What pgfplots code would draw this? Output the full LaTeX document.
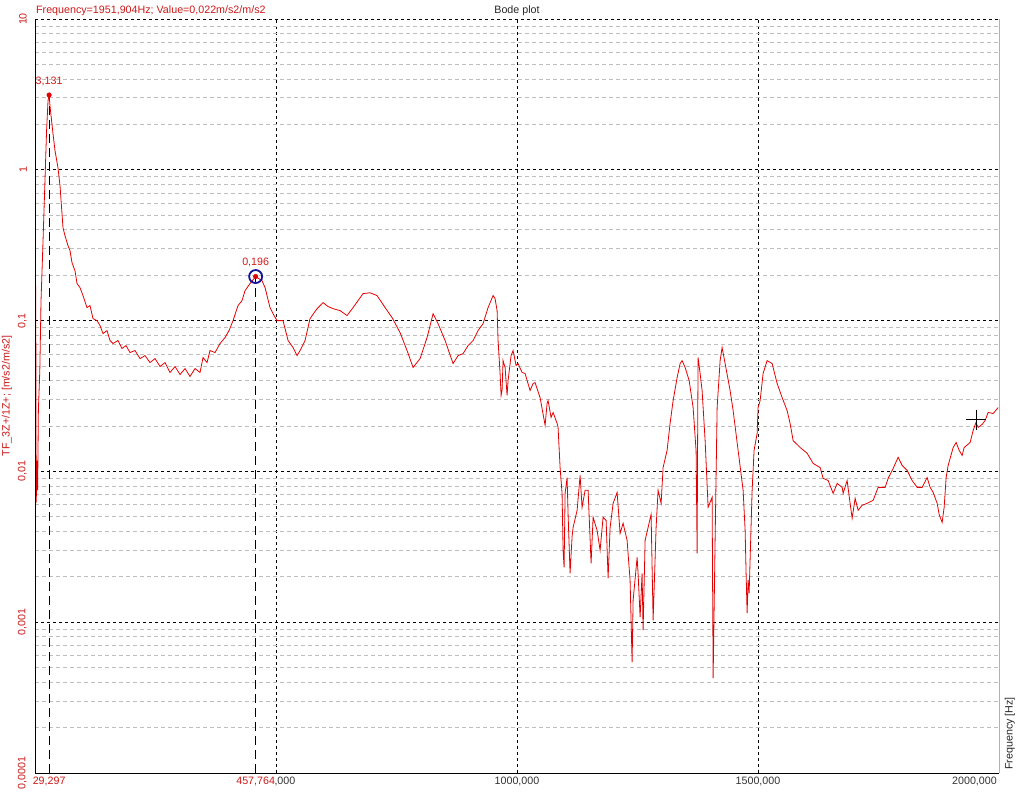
\documentclass[border=0pt]{standalone}
\usepackage{fontspec}
\setmainfont{Liberation Sans}
\usepackage{pgfplots}
\usepackage{pgfplotstable}
\pgfplotsset{compat=1.18}
\definecolor{curvered}{RGB}{228,0,0}
\definecolor{txtred}{RGB}{205,25,25}
\definecolor{mgray}{RGB}{190,190,190}
\definecolor{cnavy}{RGB}{20,20,150}
\newcommand{\fs}{\fontsize{10.7bp}{12bp}\selectfont}

\pgfplotstableread{
f v
0.5 0.0051
1.5 0.17
2.5 0.0062
3.5 0.0087
4.5 0.0118
5.5 0.0075
7 0.0253
10 0.0467
12.5 0.136
16 0.291
20 0.726
24 1.81
27 2.86
29.297 3.131
31.1 2.65
37.4 1.73
41.5 1.34
47.7 1.03
51.9 0.783
58.1 0.413
62.3 0.365
68.5 0.314
72.6 0.291
76.8 0.242
83.0 0.214
87.2 0.176
93.4 0.1655
99.6 0.1465
107.9 0.122
114.1 0.1257
120.4 0.1031
128.7 0.100
134.9 0.0927
141.1 0.082
149.4 0.0859
155.6 0.0738
161.9 0.0705
172.2 0.0738
180.5 0.0653
188.8 0.0683
197.1 0.0614
207.5 0.0633
217.9 0.056
228.3 0.0586
238.6 0.0527
249.0 0.056
259.4 0.0496
269.8 0.0527
280.1 0.0453
290.5 0.0496
300.9 0.0439
311.3 0.0481
321.6 0.0426
332.0 0.0481
342.4 0.0453
348.6 0.0569
356.9 0.0527
363.1 0.0633
373.5 0.0614
383.9 0.0705
394.3 0.0772
402.6 0.0859
410.9 0.100
421.2 0.1257
429.5 0.1356
435.8 0.158
446.1 0.176
457.764 0.196
471.0 0.184
477.3 0.1655
487.6 0.122
495.9 0.108
502.2 0.100
514.6 0.100
525.0 0.0738
535.4 0.0663
543.7 0.0586
549.9 0.0633
560.3 0.0738
570.6 0.1031
585.2 0.120
597.6 0.1316
608.0 0.124
618.4 0.120
632.9 0.1165
647.4 0.108
659.9 0.122
670.2 0.1356
680.6 0.151
695.1 0.153
709.7 0.1465
726.3 0.122
740.8 0.1047
757.4 0.0833
771.9 0.0633
784.4 0.0489
798.9 0.056
813.4 0.0772
825.9 0.111
836.2 0.0955
850.8 0.0738
867.4 0.0519
877.7 0.0586
888.1 0.0604
898.5 0.0683
908.9 0.0738
919.2 0.0859
929.6 0.0955
940.0 0.122
950.4 0.1465
954.5 0.14
958.7 0.1165
960.7 0.0738
964.9 0.0446
967.0 0.0319
969.0 0.0344
971.1 0.0543
975.3 0.0489
979.4 0.0319
981.5 0.0401
987.7 0.0586
991.9 0.0633
998.1 0.0504
1002.2 0.0519
1010.5 0.0453
1016.8 0.0446
1027.1 0.0344
1033.4 0.0383
1037.5 0.0388
1047.9 0.0309
1058.3 0.0202
1062.4 0.0282
1064.5 0.0295
1070.7 0.0228
1074.9 0.0246
1083.2 0.0208
1085.2 0.0196
1089.4 0.0106
1093.5 0.00715
1095.6 0.0030
1097.7 0.00231
1099.8 0.00715
1103.9 0.0091
1106.0 0.00519
1110.1 0.00211
1114.3 0.00371
1116.4 0.00425
1124.7 0.00552
1130.9 0.0094
1135.0 0.00578
1141.3 0.0075
1147.5 0.0075
1153.7 0.00246
1157.9 0.00496
1166.2 0.00406
1172.4 0.0030
1178.6 0.00496
1184.9 0.00473
1189.0 0.00196
1193.2 0.00425
1199.4 0.00614
1207.7 0.00726
1213.9 0.00388
1220.1 0.00453
1228.4 0.00349
1234.6 0.0019
1238.8 0.000543
1240.9 0.0014
1249.2 0.00269
1251.2 0.00211
1255.4 0.00108
1259.5 0.00211
1261.6 0.000885
1265.8 0.00349
1272.0 0.00425
1278.2 0.00519
1282.4 0.00103
1288.6 0.00425
1292.7 0.0075
1299.0 0.00614
1303.1 0.0106
1311.4 0.0138
1317.6 0.0208
1323.9 0.0295
1332.2 0.0419
1338.4 0.0519
1342.5 0.0543
1348.8 0.0489
1357.1 0.0401
1365.4 0.0265
1371.6 0.0136
1373.7 0.00286
1374.7 0.016
1375.7 0.0569
1379.9 0.0446
1384.0 0.0344
1390.3 0.016
1396.5 0.00578
1404.8 0.00673
1406.9 0.000426
1411.0 0.00349
1415.2 0.0265
1421.4 0.0543
1425.5 0.0663
1431.8 0.0519
1442.1 0.0344
1448.4 0.0253
1458.7 0.0138
1469.1 0.0075
1473.3 0.00406
1475.3 0.00211
1477.4 0.00115
1479.5 0.0019
1481.6 0.00156
1487.8 0.0075
1491.9 0.0138
1498.2 0.0179
1500.2 0.0265
1504.4 0.0295
1510.6 0.0446
1518.9 0.0543
1529.3 0.0519
1539.7 0.0383
1550.0 0.0309
1560.4 0.0253
1566.6 0.0208
1572.9 0.016
1587.4 0.0144
1601.9 0.0132
1614.4 0.0113
1628.9 0.0106
1635.1 0.0090
1645.5 0.0087
1655.9 0.00715
1664.2 0.00833
1674.6 0.00784
1676.6 0.00715
1684.9 0.0087
1691.1 0.00614
1695.3 0.00489
1701.5 0.00662
1707.7 0.00552
1716.0 0.00596
1726.4 0.00614
1738.9 0.00643
1749.2 0.00784
1763.8 0.00784
1770.0 0.0090
1780.4 0.01047
1790.7 0.0124
1799.0 0.01096
1809.4 0.01016
1819.8 0.0087
1830.2 0.00784
1840.5 0.00784
1850.9 0.0091
1857.1 0.00784
1863.4 0.00726
1871.7 0.00614
1875.8 0.00519
1882.0 0.00459
1886.2 0.00578
1890.3 0.0091
1894.5 0.01096
1904.9 0.0144
1911.1 0.01556
1917.3 0.0138
1923.5 0.01277
1927.7 0.0144
1940.1 0.01556
1946.4 0.0187
1951.9 0.021
1956.7 0.0196
1965.0 0.0205
1971.3 0.0218
1977.5 0.0246
1987.9 0.0242
1998.2 0.0265
}\tfdata

\begin{document}
\begin{tikzpicture}[font=\fs]
\begin{axis}[name=ax, at={(0,0)}, anchor=south west,
  scale only axis, width=964bp, height=754bp,
  xmin=0, xmax=2000, ymode=log, ymin=1e-4, ymax=10,
  axis line style={draw=none},
  xtick={500,1000,1500},
  xticklabels={{500,000},{1000,000},{1500,000}},
  ytick={1e-4,1e-3,1e-2,1e-1,1,10},
  yticklabels={{0,0001},{0,001},{0,01},{0,1},{1},{10}},
  minor ytick={2e-4,3e-4,4e-4,5e-4,6e-4,7e-4,8e-4,9e-4,
    2e-3,3e-3,4e-3,5e-3,6e-3,7e-3,8e-3,9e-3,
    0.02,0.03,0.04,0.05,0.06,0.07,0.08,0.09,
    0.2,0.3,0.4,0.5,0.6,0.7,0.8,0.9,
    2,3,4,5,6,7,8,9},
  xmajorgrids, ymajorgrids, yminorgrids,
  major grid style={black, dash pattern=on 3bp off 3bp, line width=0.8bp},
  minor grid style={mgray, dash pattern=on 4bp off 3bp, line width=0.8bp},
  major tick length=0pt, minor tick length=0pt,
  tick style={draw=none},
  tick label style={font=\fs},
  xticklabel style={text=black!80, anchor=north, yshift=-3bp, inner sep=1bp},
  yticklabel style={xshift=-8bp, text=txtred, rotate=90, anchor=south, inner sep=0pt},
  extra x ticks={29.297,457.764},
  extra x tick labels={{29,297},{457,764}},
  extra x tick style={grid=none, xticklabel style={text=txtred, fill=white, inner xsep=0.5bp}},
]
\addplot[black, dash pattern=on 9bp off 5bp, line width=0.8bp] coordinates {(29.297,1e-4) (29.297,3.131)};
\addplot[black, dash pattern=on 9bp off 5bp, line width=0.8bp] coordinates {(457.764,1e-4) (457.764,0.196)};
\addplot[curvered, line width=0.8bp, no markers] table[x=f, y=v] {\tfdata};
\addplot[only marks, mark=*, mark size=2.3bp, curvered] coordinates {(29.297,3.131) (457.764,0.196)};
\addplot[only marks, mark=o, mark size=6.5bp, cnavy, line width=1.8bp] coordinates {(457.764,0.196)};
\addplot[only marks, mark=+, mark size=10bp, black, line width=0.6bp] coordinates {(1951.904,0.022)};
\node[text=txtred, anchor=base, yshift=11bp] at (axis cs:29.297,3.131) {3,131};
\node[text=txtred, anchor=base, yshift=11bp] at (axis cs:457.764,0.196) {0,196};
\end{axis}
\draw[black, line width=1bp] (ax.north west) -- (ax.south west) -- (ax.south east);
\draw[gray!60, line width=1bp] (ax.south east) -- (ax.north east);
\node[anchor=base west, text=txtred, inner sep=0pt] at ([xshift=1bp, yshift=5bp]ax.north west) {Frequency=1951,904Hz; Value=0,022m/s2/m/s2};
\node[anchor=base, inner sep=0pt, text=black!85] at ([yshift=5bp]ax.north) {Bode plot};
\node[rotate=90, anchor=south, inner sep=0pt, text=txtred] at ([xshift=-23bp]ax.west) {TF\_3Z+/1Z+; [m/s2/m/s2]};
\node[rotate=90, anchor=south west, inner sep=0pt, text=black!85] at ([xshift=16bp, yshift=3bp]ax.south east) {Frequency [Hz]};
\node[anchor=north east, inner sep=1bp, text=black!80] at ([xshift=-1bp, yshift=-3bp]ax.south east) {2000,000};
\path[use as bounding box] ([xshift=-35bp, yshift=-19bp]ax.south west) rectangle ([xshift=25bp, yshift=19bp]ax.north east);
\end{tikzpicture}
\end{document}
